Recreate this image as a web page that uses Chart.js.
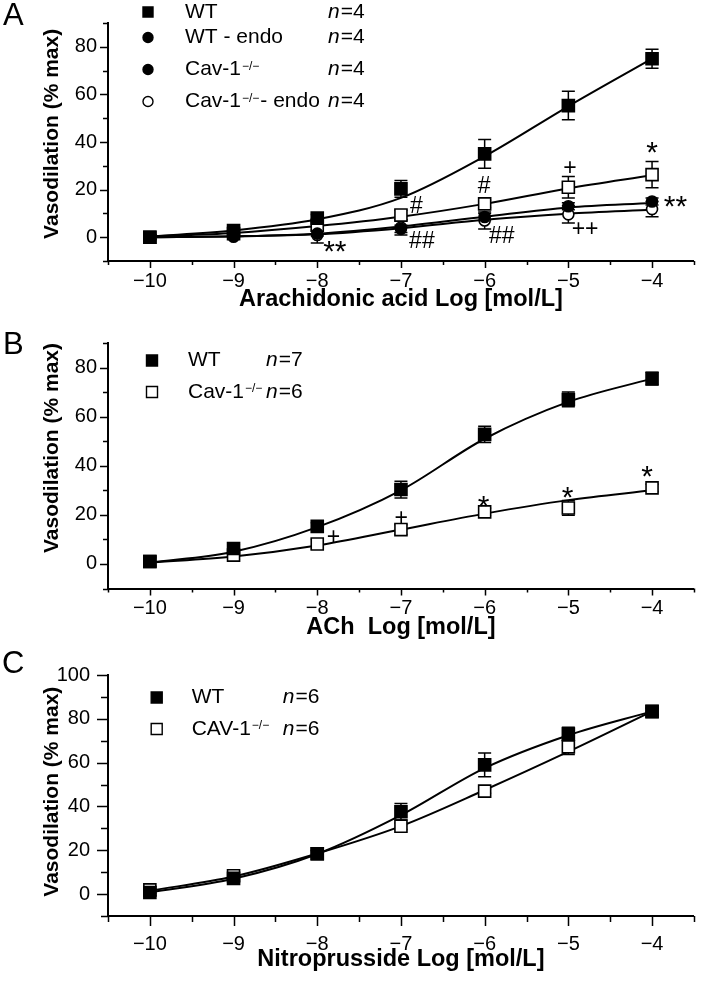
<!DOCTYPE html>
<html>
<head>
<meta charset="utf-8">
<script src="https://cdn.jsdelivr.net/npm/chart.js@4.4.1/dist/chart.umd.min.js"></script>
<style>
  html, body { margin: 0; padding: 0; background: #fff; }
  #wrap { position: relative; width: 704px; height: 982px; overflow: hidden; }
  canvas { position: absolute; left: 0; }
  .plabel { position: absolute; font-family: "Liberation Sans", Arial, sans-serif; font-size: 31px; line-height: 1; color: #000; }
</style>
</head>
<body>
<div id="wrap">
  <canvas id="cA" width="704" height="320" style="top:0px"></canvas>
  <canvas id="cB" width="704" height="325" style="top:320px"></canvas>
  <canvas id="cC" width="704" height="337" style="top:645px"></canvas>
  <div class="plabel" style="left:3px;top:-1px">A</div>
  <div class="plabel" style="left:3px;top:328px">B</div>
  <div class="plabel" style="left:2px;top:647px">C</div>
</div>
<script>
// ---------- shared axis data ----------
const doses = [-10, -9, -8, -7, -6, -5, -4];
const xTickLabels = ['−10', '−9', '−8', '−7', '−6', '−5', '−4'];
const xMinorTicks = [-10.5, -9.5, -8.5, -7.5, -6.5, -5.5, -4.5, -3.5];
const yMajorAB = [0, 20, 40, 60, 80];
const yMinorAB = [-10, 10, 30, 50, 70, 90];
const yMajorC = [0, 20, 40, 60, 80, 100];
const yMinorC = [-10, 10, 30, 50, 70, 90];
const yTitle = 'Vasodilation (% max)';

// ---------- Panel A: arachidonic acid ----------
const aWT         = [0, 2.8, 8, 20.3, 35, 55.3, 75];
const aWTErr      = [1, 1, 1.5, 3.5, 6, 6, 4];
const aWTFit      = [0.3, 2.8, 7.5, 16.5, 34, 55, 75];
const aWTEndo     = [0, 0.5, 1.5, 3.5, 8.5, 13, 15];
const aWTEndoErr  = [0.8, 0.8, 1, 1.5, 1.5, 1.5, 1.5];
const aWTEndoFit  = [0, 0.4, 1.5, 4.5, 8.6, 12.5, 14.4];
const aCav        = [0, 1.5, 5, 9.3, 14, 21, 26.3];
const aCavErr     = [1, 1, 2, 2, 1.5, 4.5, 5.5];
const aCavFit     = [0.3, 1.8, 4.7, 8.6, 14, 20.5, 26];
const aCavEndo    = [0, 0.2, 0.9, 4.1, 7, 9.6, 11.8];
const aCavEndoErr = [1, 1, 3.3, 3.2, 3.6, 3.6, 3.2];
const aCavEndoFit = [0, 0.3, 1.2, 3.8, 7.3, 9.9, 11.5];
const aNotes = [
  { x: -6.815, y: 13.6, t: '#' },  { x: -6.75, y: -1.1, t: '##' },
  { x: -6.005, y: 21.9, t: '#' },  { x: -5.795, y: 1.05, t: '##' },
  { x: -4.98, y: 29.6, t: '+' },   { x: -4.8, y: 4.1, t: '++' },
  { x: -4.0, y: 39, t: '*' },      { x: -3.72, y: 16.4, t: '**' },
  { x: -7.79, y: -2.8, t: '**' }
];

// ---------- Panel B: ACh ----------
const bWT     = [1, 6.3, 15.3, 30.3, 52.8, 67, 75.5];
const bWTErr  = [1.5, 1.5, 1.5, 3.4, 3.3, 3, 2.6];
const bWTFit  = [0.5, 5, 15, 30, 51, 66, 75.5];
const bCav    = [1, 3.6, 8.1, 14, 21.2, 22.8, 31];
const bCavErr = [2, 2, 2, 2, 1.5, 3, 1.5];
const bCavFit = [0.5, 3, 7.5, 14, 20.5, 26, 30];
const bNotes = [
  { x: -7.806, y: 11.7, t: '+' }, { x: -6.998, y: 19.3, t: '+' },
  { x: -6.012, y: 26.5, t: '*' }, { x: -5.008, y: 30.4, t: '*' },
  { x: -4.06, y: 38.9, t: '*' }
];

// ---------- Panel C: nitroprusside ----------
const cWT     = [0.7, 7.2, 18.4, 37.6, 59, 73, 83.4];
const cWTErr  = [1.5, 1.5, 1.5, 3.8, 5.4, 3.2, 1.5];
const cWTFit  = [0.8, 7, 18.3, 36, 57.5, 72.5, 83.4];
const cCav    = [1.9, 8.4, 18.4, 31, 47, 67.2, 83.3];
const cCavErr = [1.5, 1.5, 1.5, 1.5, 1, 3.5, 1.5];
const cCavFit = [1.5, 8, 18.5, 31, 47.5, 65, 83.4];

// ---------- legends ----------
const legendA = [
  { main: 'WT', sup: '', tail: '', n: 4, style: 'rect', filled: true },
  { main: 'WT - endo', sup: '', tail: '', n: 4, style: 'circle', filled: true },
  { main: 'Cav-1', sup: '−/−', tail: '', n: 4, style: 'circle', filled: true },
  { main: 'Cav-1', sup: '−/−', tail: '- endo ', n: 4, style: 'circle', filled: false }
];
const legendB = [
  { main: 'WT', sup: '', tail: '', n: 7, style: 'rect', filled: true },
  { main: 'Cav-1', sup: '−/−', tail: '', n: 6, style: 'rect', filled: false }
];
const legendC = [
  { main: 'WT', sup: '', tail: '', n: 6, style: 'rect', filled: true },
  { main: 'CAV-1', sup: '−/−', tail: '', n: 6, style: 'rect', filled: false }
];

// ---------- helpers ----------
Chart.defaults.font.family = '"Liberation Sans", Arial, Helvetica, sans-serif';
Chart.defaults.color = '#000';
const FONT = '"Liberation Sans", Arial, Helvetica, sans-serif';

const pts = vals => doses.map((d, i) => ({ x: d, y: vals[i] }));

function markerSet(label, vals, errs, style, filled, r) {
  return {
    label, data: pts(vals), errors: errs, showLine: false,
    pointStyle: style, pointRadius: r, pointHoverRadius: r,
    pointBackgroundColor: filled ? '#000' : '#fff',
    pointBorderColor: '#000', pointBorderWidth: 1.6,
    borderColor: '#000', backgroundColor: filled ? '#000' : '#fff'
  };
}
function fitSet(label, vals) {
  return {
    label, data: pts(vals), showLine: true, pointRadius: 0, pointHoverRadius: 0,
    borderColor: '#000', borderWidth: 2, cubicInterpolationMode: 'monotone', fill: false
  };
}

const errorBars = {
  id: 'errorBars',
  beforeDatasetsDraw(chart) {
    const { ctx } = chart; const x = chart.scales.x, y = chart.scales.y;
    ctx.save(); ctx.strokeStyle = '#000'; ctx.lineWidth = 1.5;
    chart.data.datasets.forEach(ds => {
      if (!ds.errors) return;
      ds.data.forEach((p, i) => {
        const e = ds.errors[i]; if (!e) return;
        const px = x.getPixelForValue(p.x);
        const t = y.getPixelForValue(p.y + e), b = y.getPixelForValue(p.y - e);
        ctx.beginPath();
        ctx.moveTo(px, t); ctx.lineTo(px, b);
        ctx.moveTo(px - 6.5, t); ctx.lineTo(px + 6.5, t);
        ctx.moveTo(px - 6.5, b); ctx.lineTo(px + 6.5, b);
        ctx.stroke();
      });
    });
    ctx.restore();
  }
};

const tickMarks = {
  id: 'tickMarks',
  afterDraw(chart, args, o) {
    const { ctx } = chart; const x = chart.scales.x, y = chart.scales.y;
    const ca = chart.chartArea;
    ctx.save(); ctx.strokeStyle = '#000'; ctx.lineWidth = 1.5; ctx.beginPath();
    doses.forEach(v => { const p = Math.round(x.getPixelForValue(v)) + 0.5; ctx.moveTo(p, ca.bottom); ctx.lineTo(p, ca.bottom + o.xMajorLen); });
    xMinorTicks.forEach(v => { const p = Math.round(x.getPixelForValue(v)) + 0.5; ctx.moveTo(p, ca.bottom); ctx.lineTo(p, ca.bottom + o.xMinorLen); });
    o.yMajor.forEach(v => { const p = Math.round(y.getPixelForValue(v)) + 0.5; ctx.moveTo(ca.left, p); ctx.lineTo(ca.left - o.yMajorLen, p); });
    o.yMinor.forEach(v => { const p = Math.round(y.getPixelForValue(v)) + 0.5; ctx.moveTo(ca.left, p); ctx.lineTo(ca.left - o.yMinorLen, p); });
    ctx.stroke(); ctx.restore();
  }
};

const notes = {
  id: 'notes',
  afterDatasetsDraw(chart, args, o) {
    if (!o.items) return;
    const { ctx } = chart; const x = chart.scales.x, y = chart.scales.y;
    ctx.save(); ctx.fillStyle = '#000'; ctx.textAlign = 'center'; ctx.textBaseline = 'alphabetic';
    o.items.forEach(it => {
      const star = it.t.indexOf('*') >= 0;
      const fs = star ? 30 : 23;
      const off = star ? 0.585 : 0.36;
      ctx.font = fs + 'px ' + FONT;
      ctx.fillText(it.t, x.getPixelForValue(it.x), y.getPixelForValue(it.y) + fs * off);
    });
    ctx.restore();
  }
};

const panelLegend = {
  id: 'panelLegend',
  afterDraw(chart, args, o) {
    if (!o.rows) return;
    const { ctx } = chart;
    ctx.save(); ctx.textBaseline = 'middle'; ctx.textAlign = 'left'; ctx.fillStyle = '#000';
    o.rows.forEach((r, i) => {
      const yy = o.rowY[i];
      ctx.lineWidth = 1.4; ctx.strokeStyle = '#000'; ctx.fillStyle = r.filled ? '#000' : '#fff';
      const s = o.marker;
      ctx.beginPath();
      if (r.style === 'rect') ctx.rect(o.markerX - s / 2, yy - s / 2, s, s);
      else ctx.arc(o.markerX, yy, s / 2, 0, Math.PI * 2);
      ctx.fill(); ctx.stroke();
      ctx.fillStyle = '#000';
      let cx = o.textX;
      ctx.font = o.size + 'px ' + FONT;
      ctx.fillText(r.main, cx, yy); cx += ctx.measureText(r.main).width;
      if (r.sup) {
        ctx.font = o.supSize + 'px ' + FONT;
        ctx.textBaseline = 'alphabetic';
        ctx.fillText(r.sup, cx + 1, yy); cx += ctx.measureText(r.sup).width + 2;
        ctx.textBaseline = 'middle';
      }
      if (r.tail) {
        ctx.font = o.size + 'px ' + FONT;
        ctx.fillText(r.tail, cx, yy); cx += ctx.measureText(r.tail).width;
      }
      const nx = Math.max(o.nX, cx + 1);
      ctx.font = 'italic ' + o.size + 'px ' + FONT;
      ctx.fillText('n', nx, yy);
      const w = ctx.measureText('n').width;
      ctx.font = o.size + 'px ' + FONT;
      ctx.fillText('=' + r.n, nx + w + 1, yy);
    });
    ctx.restore();
  }
};

function makeChart(id, p) {
  return new Chart(document.getElementById(id), {
    type: 'line',
    data: { datasets: p.datasets },
    options: {
      responsive: false, animation: false, events: [],
      layout: { padding: { top: p.padTop, right: 2, bottom: 0, left: 0 } },
      plugins: {
        legend: { display: false }, tooltip: { enabled: false },
        tickMarks: { yMajor: p.yMajor, yMinor: p.yMinor, xMajorLen: p.xMajorLen, xMinorLen: p.xMinorLen, yMajorLen: p.yMajorLen, yMinorLen: p.yMinorLen },
        notes: { items: p.notes },
        panelLegend: p.legend
      },
      scales: {
        x: {
          type: 'linear', min: -10.5, max: -3.5,
          afterBuildTicks: s => { s.ticks = doses.map(v => ({ value: v })); },
          afterFit: s => { s.height = p.xH; },
          grid: { display: false, drawTicks: false },
          border: { display: true, color: '#000', width: 2 },
          ticks: {
            color: '#000', font: { size: 20 }, padding: p.xPad, maxRotation: 0, autoSkip: false,
            callback: v => { const i = doses.indexOf(v); return i >= 0 ? xTickLabels[i] : ''; }
          },
          title: { display: true, text: p.xTitle, color: '#000', font: { size: 23.5, weight: 'bold' }, padding: { top: 0, bottom: p.xTitlePad } }
        },
        y: {
          type: 'linear', min: -10, max: p.yMax,
          afterBuildTicks: s => { s.ticks = p.yMajor.map(v => ({ value: v })); },
          afterFit: s => { s.width = 108; },
          grid: { display: false, drawTicks: false },
          border: { display: true, color: '#000', width: 2 },
          ticks: { color: '#000', font: { size: 20 }, padding: p.yPad, callback: v => String(v) },
          title: { display: true, text: yTitle + p.yTitleGap, align: 'end', color: '#000', font: { size: 21, weight: 'bold' }, padding: { top: 40, bottom: 0 } }
        }
      }
    },
    plugins: [errorBars, tickMarks, notes, panelLegend]
  });
}

makeChart('cA', {
  padTop: 3.75, xH: 59, xPad: 8, xTitlePad: 5.9, yPad: 11, yMax: 90, yTitleGap: ' ',
  yMajor: yMajorAB, yMinor: yMinorAB, xMajorLen: 7, xMinorLen: 4, yMajorLen: 8, yMinorLen: 5,
  xTitle: 'Arachidonic acid Log [mol/L]', notes: aNotes,
  legend: { rows: legendA, rowY: [12, 37.5, 69.5, 101.5], markerX: 148, textX: 185, nX: 328, size: 21, supSize: 12, marker: 10 },
  datasets: [
    markerSet('WT', aWT, aWTErr, 'rect', true, 8.5),
    markerSet('WT - endo', aWTEndo, aWTEndoErr, 'circle', true, 5.5),
    markerSet('Cav-1−/−', aCav, aCavErr, 'rect', false, 8.5),
    markerSet('Cav-1−/− - endo', aCavEndo, aCavEndoErr, 'circle', false, 5.5),
    fitSet('WT fit', aWTFit), fitSet('WT - endo fit', aWTEndoFit),
    fitSet('Cav-1−/− fit', aCavFit), fitSet('Cav-1−/− - endo fit', aCavEndoFit)
  ]
});

makeChart('cB', {
  padTop: 12, xH: 56.5, xPad: 8, xTitlePad: 2.9, yPad: 11, yMax: 90, yTitleGap: '',
  yMajor: yMajorAB, yMinor: yMinorAB, xMajorLen: 7, xMinorLen: 4, yMajorLen: 8, yMinorLen: 5,
  xTitle: 'ACh  Log [mol/L]', notes: bNotes,
  legend: { rows: legendB, rowY: [40.5, 72], markerX: 152, textX: 188, nX: 266, size: 21, supSize: 12, marker: 11 },
  datasets: [
    markerSet('WT', bWT, bWTErr, 'rect', true, 8.5),
    markerSet('Cav-1−/−', bCav, bCavErr, 'rect', false, 8.5),
    fitSet('WT fit', bWTFit), fitSet('Cav-1−/− fit', bCavFit)
  ]
});

makeChart('cC', {
  padTop: 15.7, xH: 66, xPad: 16.5, xTitlePad: 7.9, yPad: 18, yMax: 100, yTitleGap: '  ',
  yMajor: yMajorC, yMinor: yMinorC, xMajorLen: 10, xMinorLen: 6, yMajorLen: 11, yMinorLen: 7,
  xTitle: 'Nitroprusside Log [mol/L]', notes: [],
  legend: { rows: legendC, rowY: [52.5, 84], markerX: 156.7, textX: 191.7, nX: 282.7, size: 21, supSize: 12, marker: 11 },
  datasets: [
    markerSet('WT', cWT, cWTErr, 'rect', true, 8.5),
    markerSet('CAV-1−/−', cCav, cCavErr, 'rect', false, 8.5),
    fitSet('WT fit', cWTFit), fitSet('CAV-1−/− fit', cCavFit)
  ]
});
</script>
</body>
</html>
